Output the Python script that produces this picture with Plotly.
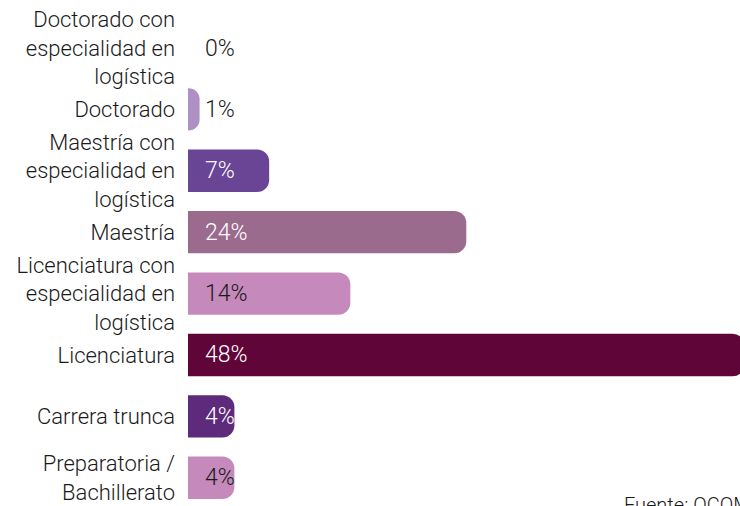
import plotly.graph_objects as go

categories = [
    "Doctorado con<br>especialidad en<br>logística",
    "Doctorado",
    "Maestría con<br>especialidad en<br>logística",
    "Maestría",
    "Licenciatura con<br>especialidad en<br>logística",
    "Licenciatura",
    "Carrera trunca",
    "Preparatoria /<br>Bachillerato",
]
values = [0, 1, 7, 24, 14, 48, 4, 4]
bar_colors = ["#b08fc7", "#ae90c4", "#6a4596", "#9b6b8e", "#c589bb", "#5f0537", "#5e2a7c", "#c589bb"]
text_colors = ["#1a1a1a", "#1a1a1a", "#ffffff", "#ffffff", "#1a1a1a", "#ffffff", "#ffffff", "#1a1a1a"]
source_text = "Fuente: OCOM"

FONT = "Roboto"
L = 188

fig = go.Figure(
    go.Bar(
        x=values,
        y=categories,
        orientation="h",
        marker=dict(color=bar_colors, line=dict(width=0)),
        hoverinfo="skip",
        cliponaxis=True,
    )
)

for cat, val, tc in zip(categories, values, text_colors):
    fig.add_annotation(
        x=0, y=cat, xref="x", yref="y",
        text=f"{val}%", showarrow=False,
        xanchor="left", yanchor="middle", xshift=15,
        font=dict(family=FONT, size=23, color=tc, weight=300),
    )

fig.add_annotation(
    x=(622 - L) / (740 - L), y=0.03, xref="paper", yref="paper",
    text=source_text, showarrow=False,
    xanchor="left", yanchor="top",
    font=dict(family=FONT, size=20, color="#1a1a1a", weight=300),
)

fig.update_layout(
    width=740, height=506,
    margin=dict(l=L, r=0, t=17, b=0, autoexpand=False),
    paper_bgcolor="white", plot_bgcolor="white",
    bargap=0.31,
    barcornerradius=12,
    showlegend=False,
    font=dict(family=FONT, size=22, color="#1a1a1a"),
    xaxis=dict(range=[0, 47.6], visible=False, fixedrange=True, automargin=False),
    yaxis=dict(
        type="category",
        range=[7.46, -0.505],
        showgrid=False, zeroline=False, showline=False,
        ticks="", ticklabelstandoff=12, automargin=False,
        tickfont=dict(family=FONT, size=22, color="#1a1a1a", weight=300),
        fixedrange=True,
    ),
)

fig.write_html(
    "out.html",
    config={"displayModeBar": False},
    post_script="document.body.style.margin='0';document.body.style.overflow='hidden';",
)
